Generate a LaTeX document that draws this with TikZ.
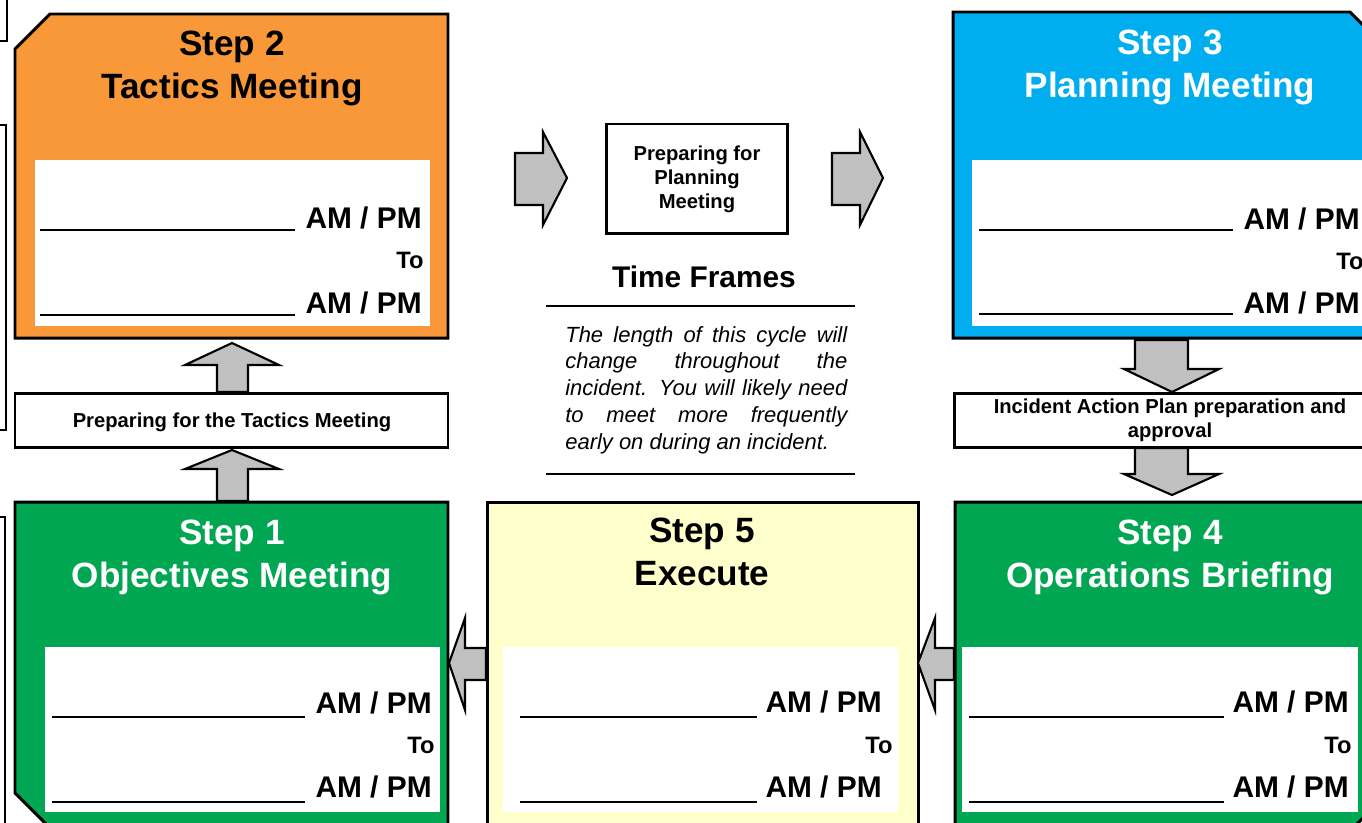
\documentclass[tikz,border=0pt]{standalone}
\usepackage{fontspec}
\setmainfont{Liberation Sans}
\definecolor{orng}{RGB}{248,152,56}
\definecolor{sky}{RGB}{0,174,239}
\definecolor{grn}{RGB}{0,166,81}
\definecolor{pale}{RGB}{255,255,204}
\definecolor{arrowgrey}{RGB}{192,192,192}
\tikzset{
  boxline/.style={draw=black,line width=1.7pt,line join=miter},
  blockarrow/.style={draw=black,fill=arrowgrey,line width=1.2pt,line join=miter},
  titletext/.style={font=\fontsize{20}{24.4}\selectfont\bfseries,align=center,anchor=base,inner sep=0pt},
  ampm/.style={font=\fontsize{17}{20}\selectfont\bfseries,anchor=base east,inner sep=0pt},
  tolabel/.style={font=\fontsize{13.5}{16}\selectfont\bfseries,anchor=base east,inner sep=0pt},
  smalllabel/.style={font=\fontsize{11.5}{13.6}\selectfont\bfseries,align=center,anchor=base,inner sep=0pt},
  fieldline/.style={line width=1.2pt},
  rule/.style={line width=1.6pt},
  thinedge/.style={line width=0.8pt},
}
\begin{document}
\begin{tikzpicture}[x=0.02cm,y=-0.02cm]
\useasboundingbox (0,0) rectangle (1362,822);
\clip (0,0) rectangle (1362,822);
% partial boxes at the left edge
\draw[thinedge] (0,41) -- (7,41) -- (7,-5);
\draw[thinedge] (0,125) -- (6,125) -- (6,430) -- (0,430);
\draw[thinedge] (0,517) -- (5,517) -- (5,830);

% Step 2
\draw[boxline,fill=orng] (50,14) -- (448,14) -- (448,338) -- (15,338) -- (15,49) -- cycle;
\fill[white] (35,160) rectangle (430,326);
\node[titletext,text=black] (s2title) at (232,98) {Step 2\\Tactics Meeting};
\draw[fieldline] (40,230) -- (295,230);
\node[ampm] (s2a) at (422,228) {AM / PM};
\node[tolabel] (s2to) at (424,268) {To};
\draw[fieldline] (40,315) -- (295,315);
\node[ampm] (s2b) at (422,313) {AM / PM};

% Step 3
\draw[boxline,fill=sky] (953,12) -- (1350,12) -- (1386,48) -- (1386,338) -- (953,338) -- cycle;
\fill[white] (972,160) rectangle (1372,326);
\node[titletext,text=white] (s3title) at (1170,97) {Step 3\\Planning Meeting};
\draw[fieldline] (979,230) -- (1233,230);
\node[ampm] (s3a) at (1360,229) {AM / PM};
\node[tolabel] (s3to) at (1364,269) {To};
\draw[fieldline] (979,314) -- (1233,314);
\node[ampm] (s3b) at (1360,313) {AM / PM};

% Step 1
\draw[boxline,fill=grn] (15,502) -- (448,502) -- (448,828) -- (50,828) -- (15,793) -- cycle;
\fill[white] (45,647) rectangle (440,812);
\node[titletext,text=white] (s1title) at (232,587) {Step 1\\Objectives Meeting};
\draw[fieldline] (52,717) -- (305,717);
\node[ampm] (s1a) at (432,713) {AM / PM};
\node[tolabel] (s1to) at (435,753) {To};
\draw[fieldline] (52,802) -- (305,802);
\node[ampm] (s1b) at (432,797) {AM / PM};

% Step 5
\draw[boxline,fill=pale] (487,502) rectangle (918,830);
\fill[white] (503,647) rectangle (898,812);
\node[titletext,text=black] (s5title) at (702,585) {Step 5\\Execute};
\draw[fieldline] (520,717) -- (757,717);
\node[ampm] (s5a) at (882,712) {AM / PM};
\node[tolabel] (s5to) at (893,753) {To};
\draw[fieldline] (520,802) -- (757,802);
\node[ampm] (s5b) at (882,797) {AM / PM};

% Step 4
\draw[boxline,fill=grn] (955,502) -- (1388,502) -- (1388,793) -- (1353,828) -- (955,828) -- cycle;
\fill[white] (962,647) rectangle (1358,812);
\node[titletext,text=white] (s4title) at (1170,587) {Step 4\\Operations Briefing};
\draw[fieldline] (969,717) -- (1224,717);
\node[ampm] (s4a) at (1349,712) {AM / PM};
\node[tolabel] (s4to) at (1352,753) {To};
\draw[fieldline] (969,802) -- (1224,802);
\node[ampm] (s4b) at (1349,797) {AM / PM};

% intermediate boxes
\draw[boxline,fill=white] (15,393) rectangle (448,447);
\node[smalllabel] (preptactics) at (232,427) {Preparing for the Tactics Meeting};
\draw[boxline,fill=white] (954,393) rectangle (1400,447);
\node[smalllabel] (iap) at (1170,437) {Incident Action Plan preparation and\\approval};
\draw[boxline,fill=white] (606,124) rectangle (787,233);
\node[smalllabel] (prepplanning) at (697,208) {Preparing for\\Planning\\Meeting};

% time frames
\node[font=\fontsize{17}{20}\selectfont\bfseries,anchor=base,inner sep=0pt] (tfhead) at (704,287) {Time Frames};
\draw[rule] (546,306) -- (855,306);
\node[font=\fontsize{12.5}{15.3}\selectfont\itshape,text width=5.64cm,align=justify,anchor=base west,inner sep=0pt] (tftext) at (565,342)
 {\hyphenpenalty=10000 The length of this cycle will\linebreak change throughout the\linebreak incident. You will likely need\linebreak to meet more frequently\linebreak early on during an incident.};
\draw[rule] (546,474) -- (855,474);

% block arrows
\draw[blockarrow] (217,392) -- (217,365) -- (185,365) -- (232,343) -- (279,365) -- (248,365) -- (248,392) -- cycle;
\draw[blockarrow] (217,501) -- (217,469) -- (185,469) -- (232,450) -- (279,469) -- (248,469) -- (248,501) -- cycle;
\draw[blockarrow] (1135,340) -- (1188,340) -- (1188,369) -- (1219,369) -- (1172,392) -- (1124,369) -- (1135,369) -- cycle;
\draw[blockarrow] (1135,448) -- (1188,448) -- (1188,474) -- (1219,474) -- (1172,495) -- (1124,474) -- (1135,474) -- cycle;
\draw[blockarrow] (515,153) -- (543,153) -- (543,132) -- (567,178) -- (543,225) -- (543,205) -- (515,205) -- cycle;
\draw[blockarrow] (832,153) -- (860,153) -- (860,132) -- (883,178) -- (860,225) -- (860,205) -- (832,205) -- cycle;
\draw[blockarrow] (486,648) -- (465,648) -- (465,618) -- (449,663) -- (465,710) -- (465,680) -- (486,680) -- cycle;
\draw[blockarrow] (954,648) -- (935,648) -- (935,618) -- (918,663) -- (935,710) -- (935,680) -- (954,680) -- cycle;
\end{tikzpicture}
\end{document}
